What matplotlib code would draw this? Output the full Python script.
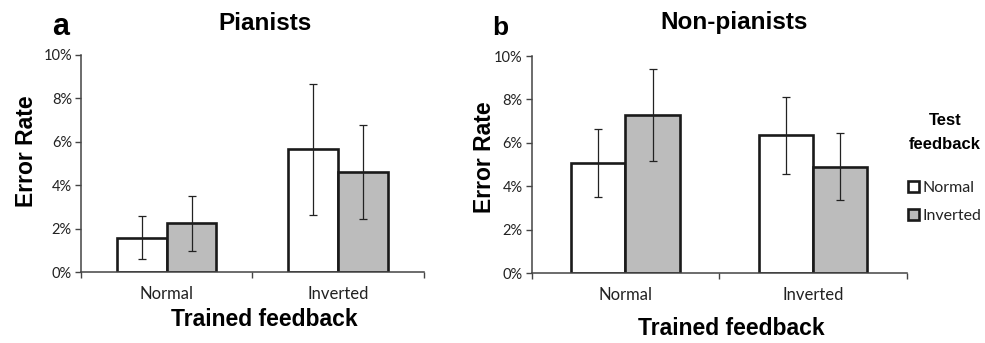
import matplotlib
matplotlib.use("Agg")
import matplotlib.pyplot as plt
from matplotlib.ticker import FuncFormatter

# trained feedback categories (x axis)
trained = ["Normal", "Inverted"]
# test feedback series (legend)
test_labels = ["Normal", "Inverted"]

# error rate in percent
pianists_test_normal = [1.6, 5.65]
pianists_test_normal_err = [1.0, 3.0]
pianists_test_inverted = [2.25, 4.6]
pianists_test_inverted_err = [1.25, 2.15]

nonpianists_test_normal = [5.06, 6.35]
nonpianists_test_normal_err = [1.57, 1.76]
nonpianists_test_inverted = [7.3, 4.91]
nonpianists_test_inverted_err = [2.11, 1.55]

BOLD = "Liberation Sans"
TICKFONT = "Lato"
W = 0.29


def panel(ax, normal, normal_err, inverted, inverted_err):
    centers = [i + 0.5 for i in range(len(trained))]
    kw = dict(width=W, align="edge", edgecolor="#1a1a1a", linewidth=1.9, zorder=2)
    ekw = dict(fmt="none", ecolor="#222222", elinewidth=0.9, capsize=2.6, capthick=0.9, zorder=3)
    b1 = ax.bar([c - W for c in centers], normal, color="white", **kw)
    b2 = ax.bar(centers, inverted, color="#bcbcbc", **kw)
    ax.errorbar([c - W / 2 for c in centers], normal, yerr=normal_err, **ekw)
    ax.errorbar([c + W / 2 for c in centers], inverted, yerr=inverted_err, **ekw)
    ax.set_xlim(0, len(trained))
    ax.set_ylim(0, 10)
    ax.set_yticks(range(0, 11, 2))
    ax.yaxis.set_major_formatter(FuncFormatter(lambda v, p: "%d%%" % v))
    ax.set_xticks(range(len(trained) + 1))
    ax.set_xticklabels([])
    ax.set_xticks(centers, minor=True)
    ax.set_xticklabels(trained, minor=True, fontfamily=TICKFONT, fontsize=12, color="#222222")
    ax.tick_params(axis="x", which="minor", length=0, pad=10)
    ax.tick_params(axis="x", which="major", length=4, direction="out", color="#444444", width=1)
    ax.tick_params(axis="y", length=4, direction="out", color="#444444", width=1, pad=2.5)
    for lab in ax.get_yticklabels():
        lab.set_fontfamily(TICKFONT)
        lab.set_fontsize(10.5)
        lab.set_color("#222222")
    for s in ["top", "right"]:
        ax.spines[s].set_visible(False)
    for s in ["left", "bottom"]:
        ax.spines[s].set_color("#444444")
        ax.spines[s].set_linewidth(1.1)
    return b1, b2


fig = plt.figure(figsize=(9.85, 3.43), dpi=100)

ax1 = fig.add_axes([0.0822, 0.2061, 0.3482, 0.6341])
panel(ax1, pianists_test_normal, pianists_test_normal_err,
      pianists_test_inverted, pianists_test_inverted_err)
ax1.text(0.536, 1.142, "Pianists", transform=ax1.transAxes, ha="center", va="center",
         fontfamily=BOLD, fontweight="bold", fontsize=17.5)
ax1.text(-0.16, 0.558, "Error Rate", transform=ax1.transAxes, ha="center", va="center",
         rotation=90, fontfamily=BOLD, fontweight="bold", fontsize=16.5)
ax1.text(0.536, -0.219, "Trained feedback", transform=ax1.transAxes, ha="center", va="center",
         fontfamily=BOLD, fontweight="bold", fontsize=16.5)

ax2 = fig.add_axes([0.5398, 0.2032, 0.3807, 0.6335])
h1, h2 = panel(ax2, nonpianists_test_normal, nonpianists_test_normal_err,
               nonpianists_test_inverted, nonpianists_test_inverted_err)
ax2.text(0.539, 1.152, "Non-pianists", transform=ax2.transAxes, ha="center", va="center",
         fontfamily=BOLD, fontweight="bold", fontsize=17.5)
ax2.text(-0.125, 0.535, "Error Rate", transform=ax2.transAxes, ha="center", va="center",
         rotation=90, fontfamily=BOLD, fontweight="bold", fontsize=16.5)
ax2.text(0.531, -0.252, "Trained feedback", transform=ax2.transAxes, ha="center", va="center",
         fontfamily=BOLD, fontweight="bold", fontsize=16.5)

fig.text(0.0614, 1 - 35 / 343, "a", ha="center", va="baseline",
         fontfamily=BOLD, fontweight="bold", fontsize=22)
fig.text(0.5076, 1 - 35 / 343, "b", ha="center", va="baseline",
         fontfamily=BOLD, fontweight="bold", fontsize=19)

leg = fig.legend([h1, h2], test_labels, loc="upper left", bbox_to_anchor=(0.914, 0.694),
                 frameon=False, borderpad=0, handlelength=0.7, handleheight=0.7,
                 handletextpad=0.2, labelspacing=0.85,
                 prop={"family": TICKFONT, "size": 11.5},
                 title="Test\nfeedback",
                 title_fontproperties={"family": BOLD, "weight": "bold", "size": 12})
leg.get_title().set_multialignment("center")
leg.get_title().set_linespacing(1.75)
leg._legend_box.sep = 21
for t in leg.get_texts():
    t.set_color("#222222")

fig.savefig("out.png", dpi=100)
